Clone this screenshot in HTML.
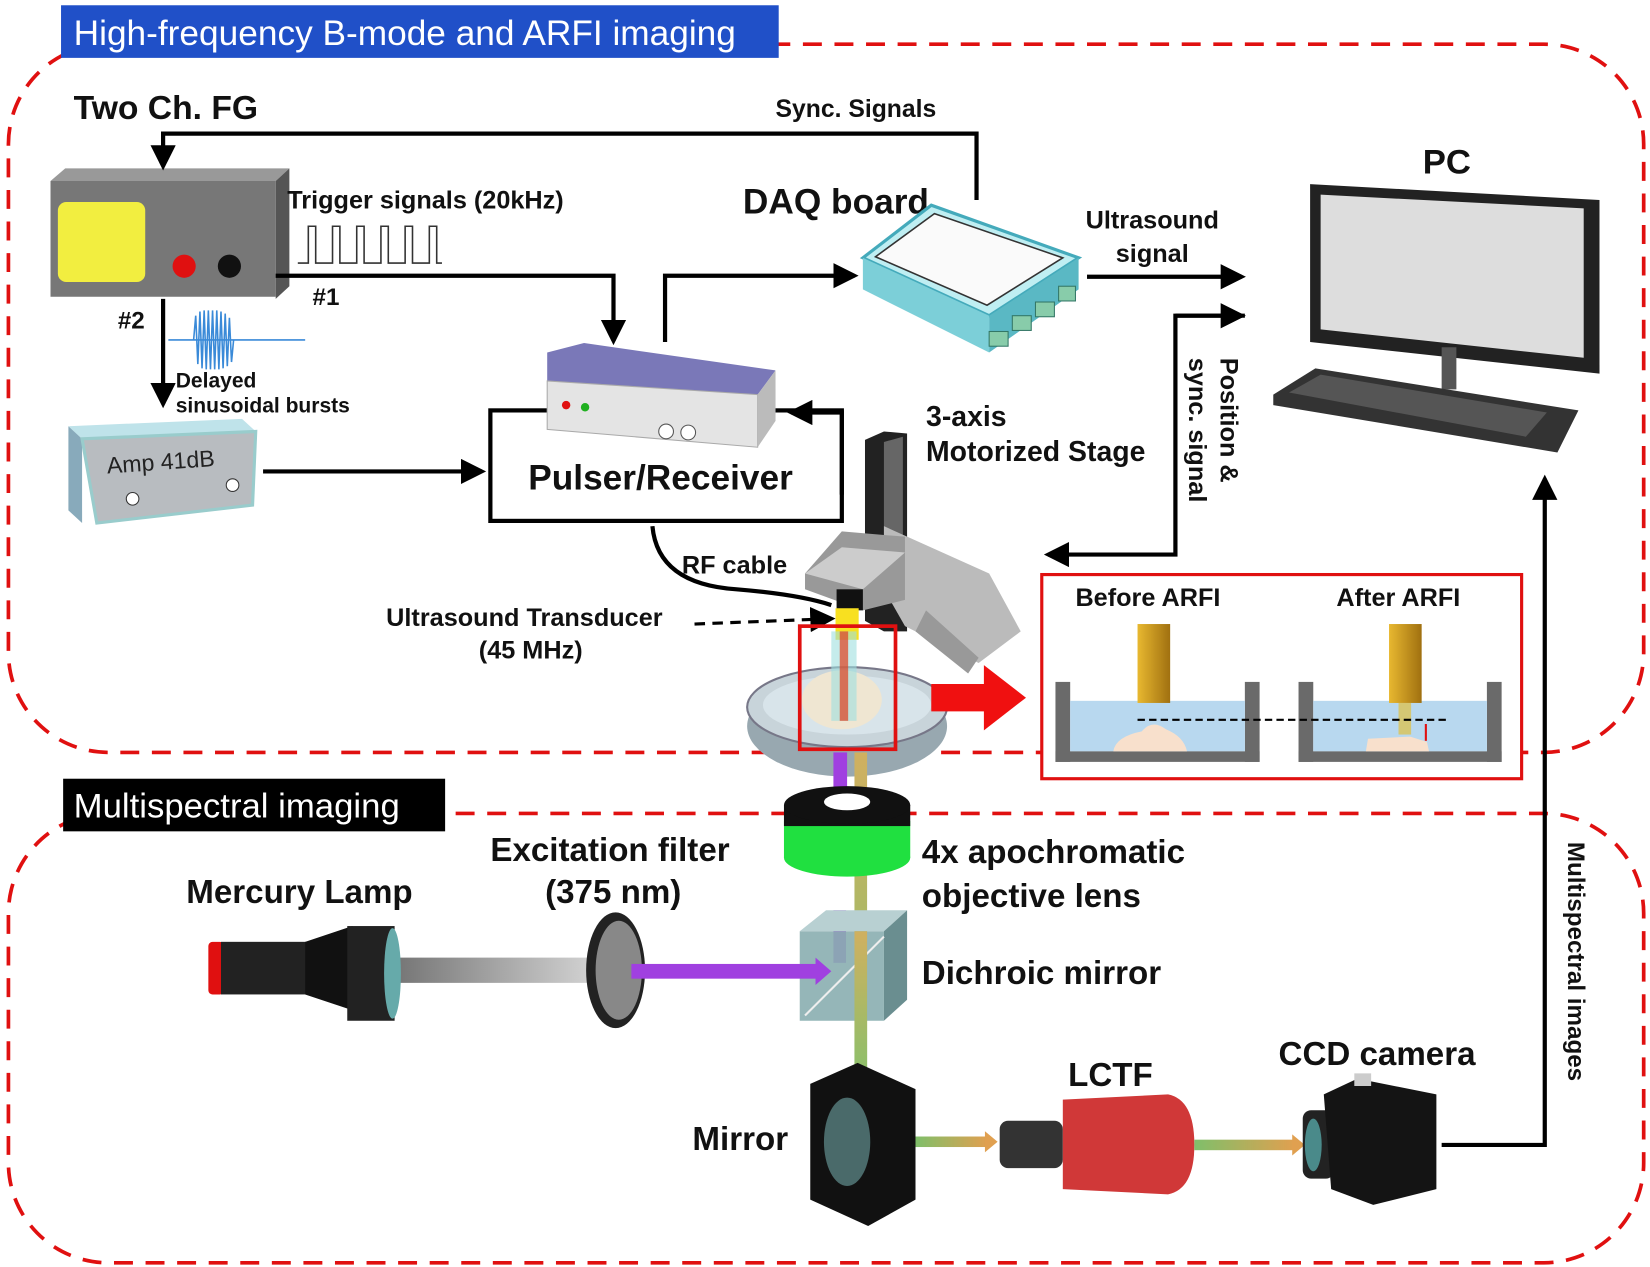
<!DOCTYPE html>
<html><head><style>
html,body{margin:0;padding:0;background:#fff;}
svg{display:block;}
text{font-family:"Liberation Sans",Arial,sans-serif;font-weight:bold;fill:#111;}
</style></head><body>
<svg width="1650" height="1267" viewBox="0 0 1568 1204" preserveAspectRatio="none" xmlns="http://www.w3.org/2000/svg">
<defs>
<marker id="ah" markerWidth="6" markerHeight="6" refX="5" refY="3" orient="auto" markerUnits="strokeWidth"><path d="M0,0 L6,3 L0,6 z" fill="#000"/></marker>
<marker id="ahs" markerWidth="8" markerHeight="8" refX="6" refY="4" orient="auto" markerUnits="strokeWidth"><path d="M0,0 L8,4 L0,8 z" fill="#000"/></marker>
<linearGradient id="beam" x1="0" x2="1"><stop offset="0" stop-color="#7fbf6a"/><stop offset="1" stop-color="#e0a050"/></linearGradient>
<linearGradient id="beamv" x1="0" x2="0" y1="0" y2="1"><stop offset="0" stop-color="#d0b060"/><stop offset="1" stop-color="#8fbf6a"/></linearGradient>
<linearGradient id="gold" x1="0" x2="1"><stop offset="0" stop-color="#e8b830"/><stop offset="1" stop-color="#a07010"/></linearGradient>
<linearGradient id="gbeam" x1="0" x2="1"><stop offset="0" stop-color="#777"/><stop offset="1" stop-color="#ddd"/></linearGradient>
</defs>
<rect x="8" y="42" width="1554" height="673" rx="95" fill="none" stroke="#e01010" stroke-width="3.5" stroke-dasharray="18,12"/>
<rect x="8" y="773" width="1554" height="427" rx="95" fill="none" stroke="#e01010" stroke-width="3.5" stroke-dasharray="18,12"/>
<rect x="58" y="5" width="682" height="50" fill="#2050c8"/>
<text x="70" y="43" font-size="33.5" style="fill:#fff;font-weight:normal">High-frequency B-mode and ARFI imaging</text>
<rect x="60" y="740" width="363" height="50" fill="#000"/>
<text x="70" y="777" font-size="33" style="fill:#fff;font-weight:normal">Multispectral imaging</text>

<text x="70" y="113" font-size="32">Two Ch. FG</text>
<polygon points="48,172 62,160 275,160 262,172" fill="#999"/>
<polygon points="262,172 275,160 275,272 262,284" fill="#555"/>
<rect x="48" y="172" width="214" height="110" fill="#777"/>
<rect x="55" y="192" width="83" height="76" rx="8" fill="#f2ee40"/>
<circle cx="175" cy="253" r="11" fill="#e01010"/>
<circle cx="218" cy="253" r="11" fill="#111"/>
<polyline points="928,190 928,127 155,127 155,158" fill="none" stroke="#000" stroke-width="4" marker-end="url(#ah)"/>
<text x="737" y="111" font-size="23.5">Sync. Signals</text>
<text x="273" y="198" font-size="24">Trigger signals (20kHz)</text>
<polyline points="283,250 293,250 293,215 300,215 300,250 316,250 316,215 323,215 323,250 339,250 339,215 346,215 346,250 362,250 362,215 369,215 369,250 385,250 385,215 392,215 392,250 408,250 408,215 415,215 415,250 420,250" fill="none" stroke="#333" stroke-width="1.5"/>
<polyline points="262,262 583,262 583,324" fill="none" stroke="#000" stroke-width="4" marker-end="url(#ah)"/>
<text x="297" y="290" font-size="23">#1</text>
<text x="112" y="312" font-size="23">#2</text>
<line x1="155" y1="284" x2="155" y2="384" stroke="#000" stroke-width="4" marker-end="url(#ah)"/>
<line x1="160" y1="323" x2="290" y2="323" stroke="#3a8ad8" stroke-width="1.5"/>
<g stroke="#3a8ad8" stroke-width="1.5" fill="none">
<path d="M184,323 L186,300 L188,346 L190,296 L192,350 L194,295 L196,351 L198,295 L200,351 L202,295 L204,351 L206,295 L208,351 L210,296 L212,350 L214,298 L216,348 L218,302 L220,344 L222,323"/>
</g>
<text x="167" y="368" font-size="20">Delayed</text>
<text x="167" y="392" font-size="20">sinusoidal bursts</text>
<polygon points="65,405 230,398 243,410 78,417" fill="#bfe3ea"/>
<polygon points="65,405 78,417 78,497 65,485" fill="#8ab"/>
<polygon points="78,417 243,410 240,480 92,497" fill="#b8bcc0" stroke="#9cc" stroke-width="3"/>
<text x="102" y="450" font-size="22" style="font-weight:normal;fill:#222" transform="rotate(-4 102 450)">Amp 41dB</text>
<circle cx="126" cy="474" r="6" fill="#fff" stroke="#333"/>
<circle cx="221" cy="461" r="6" fill="#fff" stroke="#333"/>
<line x1="250" y1="448" x2="458" y2="448" stroke="#000" stroke-width="4" marker-end="url(#ah)"/>
<rect x="466" y="390" width="334" height="105" fill="#fff" stroke="#000" stroke-width="4"/>
<polygon points="520,335 555,326 737,352 720,375 520,362" fill="#7a78b8"/>
<polygon points="520,362 720,375 720,425 520,408" fill="#e4e4e4" stroke="#aaa"/>
<polygon points="720,375 737,352 737,400 720,425" fill="#bbb"/>
<circle cx="538" cy="385" r="4" fill="#e01010"/><circle cx="556" cy="387" r="4" fill="#20b020"/>
<circle cx="633" cy="410" r="7" fill="#fff" stroke="#555"/><circle cx="654" cy="411" r="7" fill="#fff" stroke="#555"/>
<text x="502" y="465" font-size="33.5">Pulser/Receiver</text>
<polyline points="800,470 800,392 752,392" fill="none" stroke="#000" stroke-width="4" marker-end="url(#ah)"/>
<polyline points="632,325 632,262 812,262" fill="none" stroke="#000" stroke-width="4" marker-end="url(#ah)"/>
<text x="706" y="203" font-size="33.5">DAQ board</text>
<polygon points="820,245 885,195 1025,245 940,300" fill="#bfeef2" stroke="#4ab" stroke-width="3"/>
<polygon points="832,244 888,203 1010,245 938,290" fill="#fafafa" stroke="#333" stroke-width="1.5"/>
<polygon points="820,245 940,300 940,335 820,275" fill="#7ccfd8"/>
<polygon points="940,300 1025,245 1025,275 940,335" fill="#5ab8c4"/>
<g fill="#8ca" stroke="#376"><rect x="940" y="315" width="18" height="14"/><rect x="962" y="300" width="18" height="14"/><rect x="984" y="287" width="18" height="14"/><rect x="1006" y="272" width="16" height="14"/></g>
<line x1="1033" y1="263" x2="1180" y2="263" stroke="#000" stroke-width="4" marker-end="url(#ah)"/>
<text x="1095" y="217" font-size="24" text-anchor="middle">Ultrasound</text>
<text x="1095" y="249" font-size="24" text-anchor="middle">signal</text>
<text x="1352" y="165" font-size="33">PC</text>
<polygon points="1245,175 1520,190 1520,355 1245,325" fill="#222"/>
<polygon points="1255,185 1505,198 1505,340 1255,313" fill="#ddd"/>
<rect x="1370" y="330" width="14" height="40" fill="#555"/>
<polygon points="1210,375 1250,350 1500,390 1480,430 1210,385" fill="#333"/>
<polygon points="1225,373 1255,356 1470,392 1450,415" fill="#555"/>
<polyline points="1183,300 1117,300 1117,527 996,527" fill="none" stroke="#000" stroke-width="4" marker-end="url(#ah)"/>
<line x1="1117" y1="300" x2="1180" y2="300" stroke="#000" stroke-width="4" marker-end="url(#ah)"/>
<text font-size="24" transform="translate(1160,340) rotate(90)">Position &amp;</text>
<text font-size="24" transform="translate(1130,340) rotate(90)">sync. signal</text>
<text x="880" y="405" font-size="27">3-axis</text>
<text x="880" y="438" font-size="27">Motorized Stage</text>
<polygon points="822,418 840,410 862,412 862,600 840,600 822,590" fill="#222"/>
<polygon points="840,420 858,415 858,520 840,520" fill="#666"/>
<polygon points="840,500 940,545 970,600 930,630 860,595 840,560" fill="#bbb"/>
<polygon points="880,580 930,625 920,640 870,600" fill="#999"/>
<polygon points="765,545 800,505 860,510 860,570 820,580 765,560" fill="#999"/>
<polygon points="765,545 800,520 860,525 820,560" fill="#ccc"/>
<rect x="795" y="560" width="25" height="20" fill="#111"/>
<path d="M620,500 Q625,555 700,560 Q760,565 790,575" fill="none" stroke="#000" stroke-width="4"/>
<text x="648" y="545" font-size="24">RF cable</text>
<text x="367" y="595" font-size="24">Ultrasound Transducer</text>
<text x="455" y="626" font-size="24">(45 MHz)</text>
<line x1="660" y1="593" x2="788" y2="588" stroke="#000" stroke-width="3" stroke-dasharray="10,7" marker-end="url(#ahs)"/>
<rect x="794" y="578" width="22" height="30" fill="#f8e020"/>
<ellipse cx="805" cy="690" rx="95" ry="48" fill="#98a8b0"/>
<ellipse cx="805" cy="672" rx="95" ry="38" fill="#c8d4da" stroke="#778" stroke-width="2"/>
<ellipse cx="805" cy="670" rx="80" ry="28" fill="#d8e4ea"/>
<ellipse cx="800" cy="665" rx="38" ry="28" fill="#efe6d2"/>
<rect x="790" y="600" width="24" height="85" fill="#9fe0e0" opacity="0.6"/>
<rect x="798" y="600" width="8" height="85" fill="#e04020" opacity="0.7"/>
<rect x="760" y="595" width="91" height="117" fill="none" stroke="#e01010" stroke-width="3.5"/>
<polygon points="885,650 935,650 935,632 975,663 935,694 935,676 885,676" fill="#f01010"/>
<rect x="990" y="546" width="456" height="194" fill="#fff" stroke="#e01010" stroke-width="3"/>
<text x="1022" y="576" font-size="24">Before ARFI</text>
<text x="1270" y="576" font-size="24">After ARFI</text>
<g>
<rect x="1003" y="648" width="14" height="76" fill="#6a6a6a"/><rect x="1183" y="648" width="14" height="76" fill="#6a6a6a"/>
<rect x="1017" y="666" width="166" height="48" fill="#b8d8ef"/><rect x="1003" y="714" width="194" height="10" fill="#6a6a6a"/>
<rect x="1081" y="593" width="31" height="75" fill="url(#gold)"/>
<path d="M1058,714 Q1060,700 1085,695 Q1095,683 1108,693 Q1125,700 1128,714 Z" fill="#f8e0cc"/>
<rect x="1234" y="648" width="14" height="76" fill="#6a6a6a"/><rect x="1413" y="648" width="14" height="76" fill="#6a6a6a"/>
<rect x="1248" y="666" width="165" height="48" fill="#b8d8ef"/><rect x="1234" y="714" width="193" height="10" fill="#6a6a6a"/>
<rect x="1320" y="593" width="31" height="75" fill="url(#gold)"/>
<rect x="1329" y="668" width="12" height="30" fill="#e0c040" opacity="0.7"/>
<path d="M1298,714 L1300,702 L1340,700 L1356,705 L1358,714 Z" fill="#f8e0cc"/>
<line x1="1081" y1="684" x2="1375" y2="684" stroke="#000" stroke-width="2" stroke-dasharray="7,4"/>
<line x1="1355" y1="688" x2="1355" y2="704" stroke="#e01010" stroke-width="2"/>
</g>
<polyline points="1370,1088 1468,1088 1468,455" fill="none" stroke="#000" stroke-width="4" marker-end="url(#ah)"/>
<text font-size="23" transform="translate(1490,800) rotate(90)">Multispectral images</text>
<rect x="792" y="715" width="13" height="45" fill="#a040e0"/>
<rect x="812" y="715" width="12" height="300" fill="url(#beamv)"/>
<rect x="792" y="865" width="12" height="50" fill="#a040e0"/>
<ellipse cx="805" cy="815" rx="60" ry="18" fill="#20e040"/>
<rect x="745" y="780" width="120" height="35" fill="#20e040"/>
<rect x="745" y="765" width="120" height="20" fill="#111"/>
<ellipse cx="805" cy="765" rx="60" ry="18" fill="#111"/>
<ellipse cx="805" cy="762" rx="22" ry="8" fill="#fff"/>
<polygon points="760,885 785,865 862,865 840,885" fill="#b8d0d2"/>
<rect x="760" y="885" width="80" height="85" fill="#8aaeb0" opacity="0.9"/>
<polygon points="840,885 862,865 862,950 840,970" fill="#6a8e90"/>
<line x1="765" y1="965" x2="840" y2="890" stroke="#eee" stroke-width="2"/>
<rect x="812" y="885" width="12" height="130" fill="url(#beamv)"/>
<rect x="380" y="910" width="205" height="24" fill="url(#gbeam)"/>
<rect x="198" y="895" width="15" height="50" rx="4" fill="#e01010"/>
<rect x="210" y="895" width="85" height="50" fill="#222"/>
<polygon points="290,895 335,880 335,960 290,945" fill="#111"/>
<rect x="330" y="880" width="45" height="90" fill="#222"/>
<ellipse cx="373" cy="925" rx="8" ry="43" fill="#6aa"/>
<ellipse cx="585" cy="922" rx="28" ry="55" fill="#222"/>
<ellipse cx="588" cy="922" rx="22" ry="47" fill="#888"/>
<rect x="600" y="916" width="180" height="14" fill="#a040e0"/>
<polygon points="775,910 790,923 775,936" fill="#a040e0"/>
<polygon points="770,1030 815,1010 870,1035 870,1140 825,1165 770,1140" fill="#111"/>
<ellipse cx="805" cy="1085" rx="22" ry="42" fill="#4a6a6a"/>
<rect x="870" y="1080" width="68" height="10" fill="url(#beam)"/>
<polygon points="936,1075 948,1085 936,1095" fill="#e0a050"/>
<rect x="950" y="1065" width="60" height="45" rx="8" fill="#333"/>
<path d="M1010,1045 L1110,1040 Q1135,1045 1135,1088 Q1135,1130 1110,1135 L1010,1130 Z" fill="#d03838"/>
<rect x="1135" y="1083" width="95" height="10" fill="url(#beam)"/>
<polygon points="1228,1078 1240,1088 1228,1098" fill="#e0a050"/>
<rect x="1238" y="1055" width="30" height="65" rx="8" fill="#222"/>
<ellipse cx="1248" cy="1088" rx="8" ry="25" fill="#4a8a8a"/>
<polygon points="1258,1040 1290,1025 1365,1040 1365,1130 1305,1145 1265,1130" fill="#141414"/>
<rect x="1287" y="1020" width="16" height="12" fill="#ccc"/>
<text x="466" y="818" font-size="31.5">Excitation filter</text>
<text x="518" y="858" font-size="31.5">(375 nm)</text>
<text x="177" y="858" font-size="31.5">Mercury Lamp</text>
<text x="876" y="820" font-size="31.5">4x apochromatic</text>
<text x="876" y="862" font-size="31.5">objective lens</text>
<text x="876" y="935" font-size="31.5">Dichroic mirror</text>
<text x="658" y="1093" font-size="31.5">Mirror</text>
<text x="1015" y="1032" font-size="31.5">LCTF</text>
<text x="1215" y="1012" font-size="31.5">CCD camera</text>
</svg>
</body></html>
